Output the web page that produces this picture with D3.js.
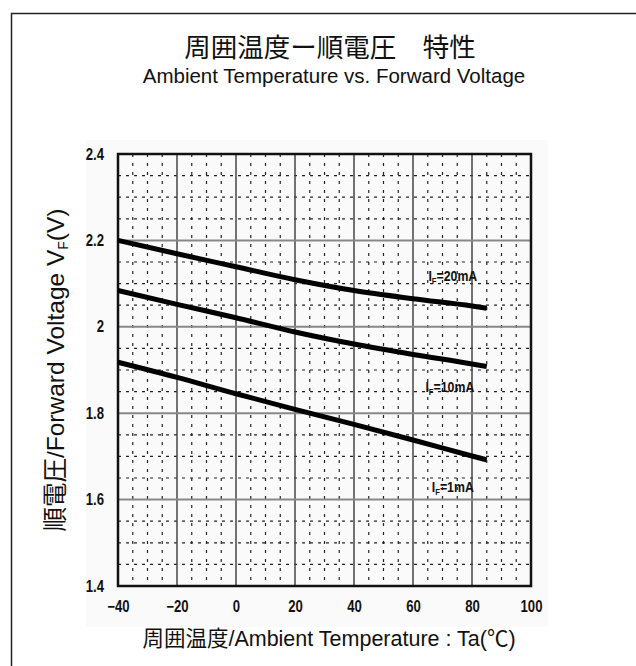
<!DOCTYPE html>
<html>
<head>
<meta charset="utf-8">
<script src="https://cdn.jsdelivr.net/npm/d3@7"></script>
<style>
  body { margin: 0; background: #fff; }
  svg { display: block; }
</style>
</head>
<body>
<svg></svg>
<script>
// temperature points (deg C)
var temps = [-40, -20, 0, 20, 40, 60, 80, 85];
// forward voltage (V) for each current
var vf20mA = [2.200, 2.169, 2.139, 2.109, 2.084, 2.065, 2.048, 2.043];
var vf10mA = [2.084, 2.052, 2.021, 1.988, 1.960, 1.936, 1.914, 1.908];
var vf1mA  = [1.918, 1.883, 1.845, 1.809, 1.774, 1.738, 1.701, 1.692];
var seriesNames = ["20mA", "10mA", "1mA"];
var xTicks = [-40, -20, 0, 20, 40, 60, 80, 100];
var yTicks = [1.4, 1.6, 1.8, 2, 2.2, 2.4];

draw();

function draw(){
  var width = 636, height = 666;
  var left = 118, right = 531, top = 154, bottom = 586;
  var latin = "'Liberation Sans', Arial, 'Noto Sans CJK JP', sans-serif";
  var tickFont = "'Liberation Sans', Arial, sans-serif";

  var svg = d3.select("svg")
              .attr("width", width)
              .attr("height", height);

  var x = d3.scaleLinear().domain([-40, 100]).range([left, right]);
  var y = d3.scaleLinear().domain([1.4, 2.4]).range([bottom, top]);

  // squeeze bold labels so they look like the narrow scan digits
  function narrow(sel, k){
    sel.each(function(){
      var w = this.getComputedTextLength();
      d3.select(this).attr("textLength", w * k).attr("lengthAdjust", "spacingAndGlyphs");
    });
  }

  // outer frame: top and left edges only
  svg.append("path")
     .attr("d", "M11.5," + height + "V13.5H" + width)
     .attr("fill", "none")
     .attr("stroke", "#222")
     .attr("stroke-width", 1.5);

  // titles
  svg.append("text")
     .attr("x", 330).attr("y", 57)
     .attr("text-anchor", "middle")
     .attr("font-family", latin)
     .attr("font-size", 26.5)
     .attr("fill", "#111")
     .text("周囲温度ー順電圧　特性");
  svg.append("text")
     .attr("x", 334).attr("y", 83)
     .attr("text-anchor", "middle")
     .attr("font-family", latin)
     .attr("font-size", 20.5)
     .attr("fill", "#111")
     .text("Ambient Temperature vs. Forward Voltage");

  // faint scan background
  svg.append("rect")
     .attr("x", 86).attr("y", 140)
     .attr("width", 462).attr("height", 487)
     .attr("fill", "#fafafa");

  var plot = svg.append("g");

  // minor dashed grid
  var xMinor = d3.range(-35, 100, 5).filter(function(d){ return d % 20 != 0; });
  var yMinor = d3.range(1.45, 2.4, 0.05).filter(function(d){
    return Math.abs(Math.round(d * 5) - d * 5) > 0.01;
  });
  plot.selectAll("line.xminor")
      .data(xMinor).enter().append("line")
      .attr("class", "xminor")
      .attr("x1", function(d){ return x(d); }).attr("x2", function(d){ return x(d); })
      .attr("y1", top).attr("y2", bottom)
      .attr("stroke", "#222").attr("stroke-width", 1.2)
      .attr("stroke-dasharray", "3,6");
  plot.selectAll("line.yminor")
      .data(yMinor).enter().append("line")
      .attr("class", "yminor")
      .attr("x1", left).attr("x2", right)
      .attr("y1", function(d){ return y(d); }).attr("y2", function(d){ return y(d); })
      .attr("stroke", "#222").attr("stroke-width", 1.2)
      .attr("stroke-dasharray", "3,5");

  // major grid
  plot.selectAll("line.xmajor")
      .data(xTicks.slice(1, -1)).enter().append("line")
      .attr("class", "xmajor")
      .attr("x1", function(d){ return x(d); }).attr("x2", function(d){ return x(d); })
      .attr("y1", top).attr("y2", bottom)
      .attr("stroke", "#444").attr("stroke-width", 1.5);
  plot.selectAll("line.ymajor")
      .data(yTicks.slice(1, -1)).enter().append("line")
      .attr("class", "ymajor")
      .attr("x1", left).attr("x2", right)
      .attr("y1", function(d){ return y(d); }).attr("y2", function(d){ return y(d); })
      .attr("stroke", "#888").attr("stroke-width", 2);

  plot.append("rect")
      .attr("x", left).attr("y", top)
      .attr("width", right - left).attr("height", bottom - top)
      .attr("fill", "none")
      .attr("stroke", "#111").attr("stroke-width", 2.5);

  // axes (labels only, frame drawn above)
  var xAxis = svg.append("g")
     .attr("transform", "translate(0," + bottom + ")")
     .call(d3.axisBottom(x).tickValues(xTicks).tickSize(0).tickPadding(15).tickFormat(d3.format("d")));
  var yAxis = svg.append("g")
     .attr("transform", "translate(" + left + ",0)")
     .call(d3.axisLeft(y).tickValues(yTicks).tickSize(0).tickPadding(14).tickFormat(function(d){ return d3.format("")(+d.toFixed(1)); }));
  [xAxis, yAxis].forEach(function(ax){
    ax.select(".domain").remove();
    ax.selectAll("text")
      .attr("font-family", tickFont)
      .attr("font-weight", "bold")
      .attr("font-size", 16)
      .attr("fill", "#111")
      .call(narrow, 0.82);
  });

  // curves
  var line = d3.line()
               .x(function(d){ return x(d[0]); })
               .y(function(d){ return y(d[1]); })
               .curve(d3.curveMonotoneX);
  var series = [vf20mA, vf10mA, vf1mA];
  plot.selectAll("path.curve")
      .data(series).enter().append("path")
      .attr("class", "curve")
      .attr("d", function(vals){ return line(d3.zip(temps, vals)); })
      .attr("fill", "none")
      .attr("stroke", "#000")
      .attr("stroke-width", 5);

  // series labels (placed in data coordinates)
  var labelPos = [[73.5, 2.105], [72.5, 1.848], [73.5, 1.617]];
  seriesNames.forEach(function(name, i){
    var t = plot.append("text")
                .attr("x", x(labelPos[i][0])).attr("y", y(labelPos[i][1]))
                .attr("text-anchor", "middle")
                .attr("font-family", tickFont)
                .attr("font-weight", "bold")
                .attr("font-size", 14.5)
                .attr("fill", "#111");
    t.append("tspan").text("I");
    t.append("tspan").attr("font-size", 9).attr("dy", 3).text("F");
    t.append("tspan").attr("dy", -3).text("=" + name);
    narrow(t, 0.85);
  });

  // axis titles
  svg.append("text")
     .attr("x", 329).attr("y", 646)
     .attr("text-anchor", "middle")
     .attr("font-family", latin)
     .attr("font-size", 21.5)
     .attr("fill", "#111")
     .text("周囲温度/Ambient Temperature : Ta(℃)");

  var yl = svg.append("text")
     .attr("transform", "translate(64,370) rotate(-90)")
     .attr("text-anchor", "middle")
     .attr("font-family", latin)
     .attr("font-size", 24.5)
     .attr("fill", "#111");
  yl.append("tspan").text("順電圧/Forward Voltage  V");
  yl.append("tspan").attr("font-size", 14).attr("dy", 4).text("F");
  yl.append("tspan").attr("dy", -4).text("(V)");
}
</script>
</body>
</html>
